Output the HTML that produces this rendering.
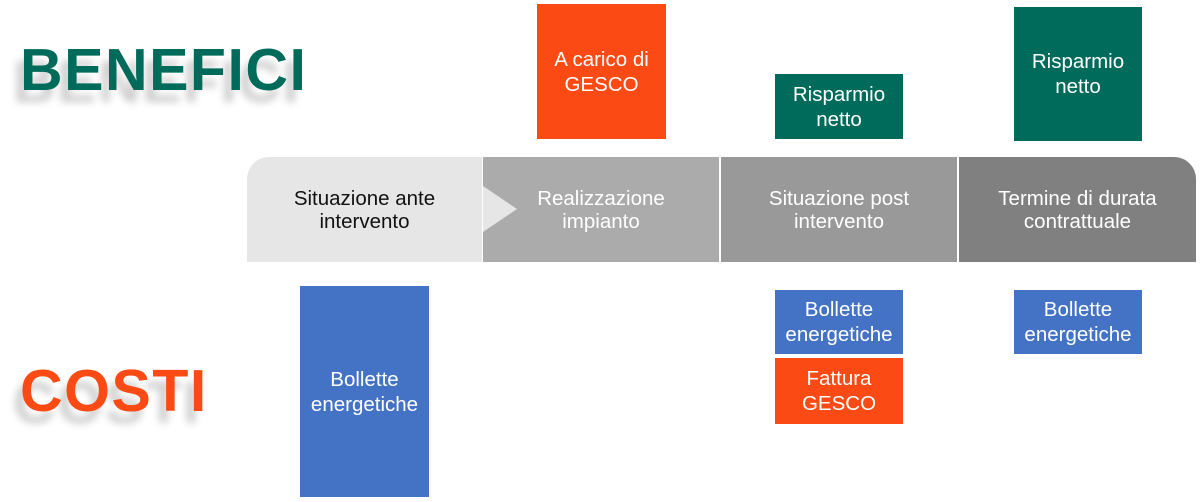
<!DOCTYPE html>
<html><head><meta charset="utf-8"><style>
body{margin:0;width:1200px;height:502px;background:#fff;position:relative;overflow:hidden;font-family:"Liberation Sans",Arial,sans-serif}
.b{position:absolute;color:#fff;font-size:20.5px;line-height:25px;display:flex;align-items:center;justify-content:center;text-align:center}
.g{background:#006b5a}.o{background:#fc4a14}.bl{background:#4472c4}
.t{position:absolute;font-weight:bold;font-size:59px;line-height:58px;letter-spacing:1.5px;text-shadow:-7px 12px 8px rgba(0,0,0,0.2)}
.band{position:absolute;top:157px;height:105px;display:flex;align-items:center;justify-content:center;text-align:center;font-size:20.5px;line-height:23px;color:#fff}
</style></head><body>
<div class="t" style="left:20px;top:41px;color:#006b5a">BENEFICI</div>
<div class="t" style="left:20px;top:362px;color:#fc4a14">COSTI</div>
<div class="band" style="left:247px;width:235px;background:#e6e6e6;color:#111;border-top-left-radius:22px">Situazione ante<br>intervento</div>
<div class="band" style="left:483px;width:236px;background:#ababab">Realizzazione<br>impianto</div>
<svg style="position:absolute;left:483px;top:186px" width="36" height="46"><polygon points="0,0 34,23 0,46" fill="#e6e6e6"/></svg>
<div class="band" style="left:721px;width:236px;background:#999">Situazione post<br>intervento</div>
<div class="band" style="left:959px;width:237px;background:#808080;border-top-right-radius:22px">Termine di durata<br>contrattuale</div>
<div class="b o" style="left:537px;top:4px;width:129px;height:135px;align-items:flex-start"><div style="margin-top:43px">A carico di<br>GESCO</div></div>
<div class="b g" style="left:775px;top:74px;width:128px;height:65px">Risparmio<br>netto</div>
<div class="b g" style="left:1014px;top:7px;width:128px;height:134px;align-items:flex-start"><div style="margin-top:42px">Risparmio<br>netto</div></div>
<div class="b bl" style="left:300px;top:286px;width:129px;height:211px">Bollette<br>energetiche</div>
<div class="b bl" style="left:775px;top:290px;width:128px;height:64px">Bollette<br>energetiche</div>
<div class="b o" style="left:775px;top:358px;width:128px;height:66px">Fattura<br>GESCO</div>
<div class="b bl" style="left:1014px;top:290px;width:128px;height:64px">Bollette<br>energetiche</div>
</body></html>
